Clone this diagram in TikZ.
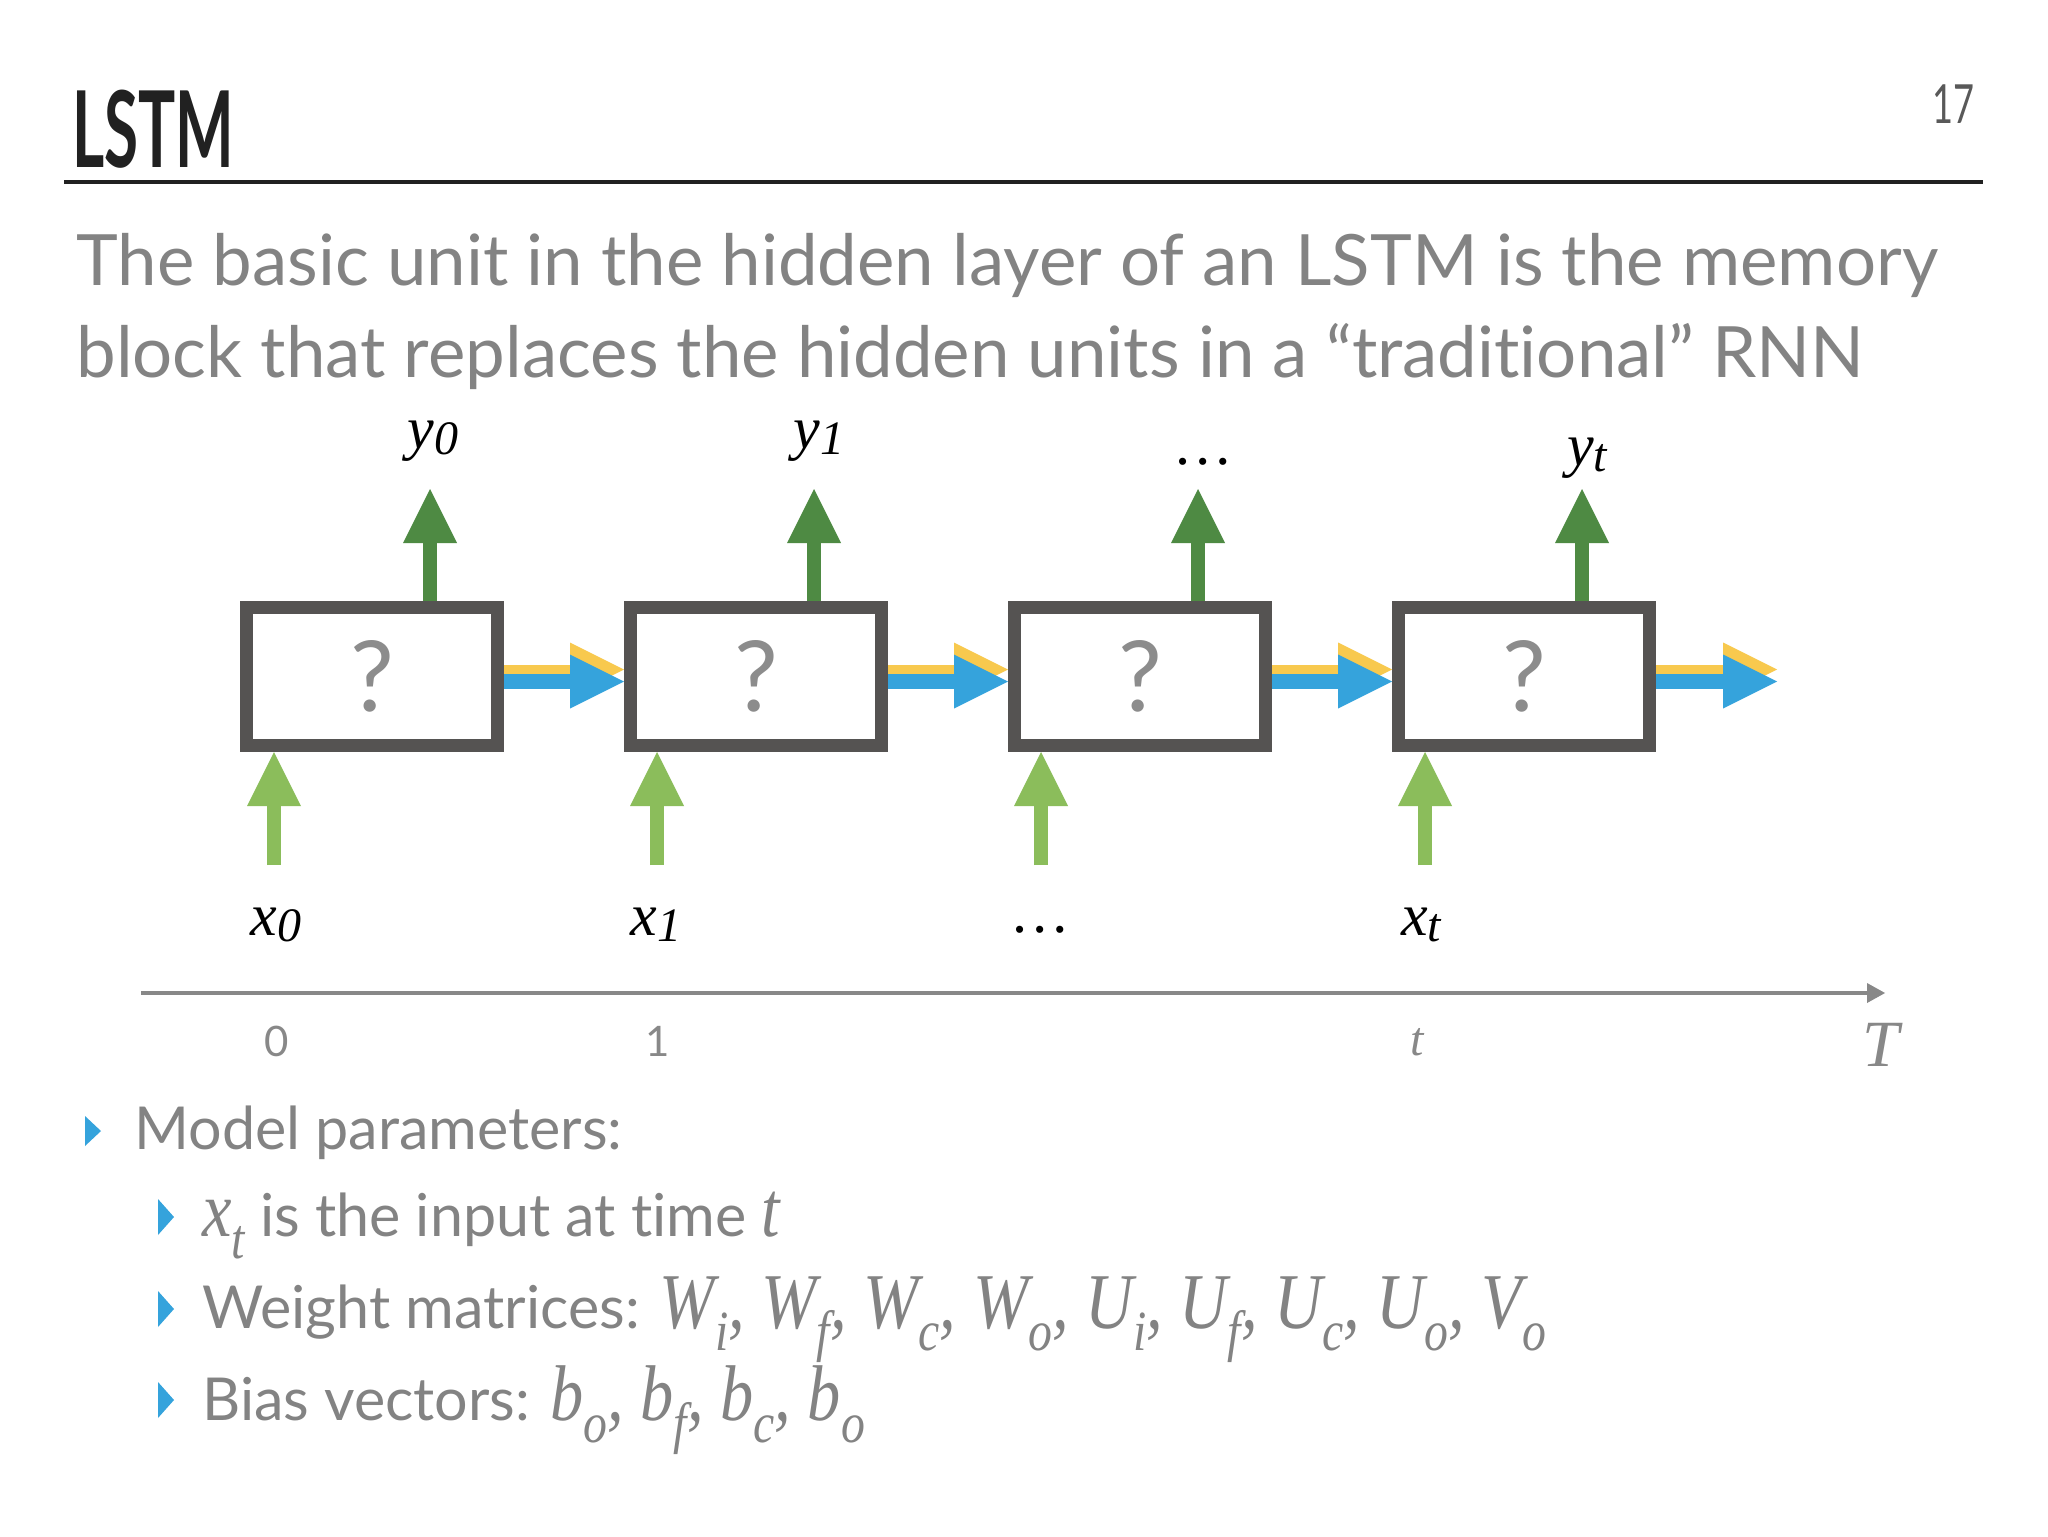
\documentclass[tikz,border=0pt]{standalone}
\usepackage{fontspec}
\setmainfont{Lato}[Ligatures=NoCommon]
\newfontfamily\tms{Liberation Serif}
\usetikzlibrary{arrows.meta}
\definecolor{boxgrey}{HTML}{555352}
\definecolor{txtgrey}{HTML}{838383}
\definecolor{qgrey}{HTML}{8C8C8C}
\definecolor{dgreen}{HTML}{4E8A43}
\definecolor{lgreen}{HTML}{8BBD5B}
\definecolor{rblue}{HTML}{35A3DC}
\definecolor{ryellow}{HTML}{F8C94E}
\definecolor{axisgrey}{HTML}{888888}
\newcommand\sbx[1]{\raisebox{-0.28em}{\scalebox{0.72}{#1}}}
\newcommand\lsb[1]{\raisebox{-0.1em}{\scalebox{0.8}{#1}}}
\newcommand\mt[1]{{\tms\itshape\fontsize{39.5}{40}\selectfont\scalebox{0.84}[1]{#1}}}
\begin{document}
\begin{tikzpicture}[x=0.5pt,y=-0.5pt,
  cell/.style={draw=boxgrey, line width=6.5pt, fill=white, minimum width=125.5pt, minimum height=69pt, inner sep=0pt, font=\fontsize{49}{49}\selectfont, text=qgrey},
  outarrow/.style={draw=dgreen, line width=7pt, -{Triangle[length=27pt,width=27pt,line width=0pt]}},
  inarrow/.style={draw=lgreen, line width=7pt, -{Triangle[length=27pt,width=27pt,line width=0pt]}},
  yarrow/.style={draw=ryellow, line width=4.5pt, -{Triangle[length=27pt,width=27pt,line width=0pt]}},
  barrow/.style={draw=rblue, line width=7.5pt, -{Triangle[length=27pt,width=27pt,line width=0pt]}},
  lbl/.style={inner sep=0pt, font=\tms\itshape\fontsize{30}{30}\selectfont},
  tick/.style={inner sep=0pt, text=axisgrey},
  body/.style={anchor=base west, inner sep=0pt, text=txtgrey, font=\fontsize{29.6}{36}\selectfont},
  bullet/.style={fill=rblue}
]
\useasboundingbox[fill=white] (0,0) rectangle (2048,1536);

% header
\node[anchor=base west, inner sep=0pt, text=black!87, font=\bfseries\fontsize{53}{53}\selectfont] (title) at (72,167) {\scalebox{0.585}[1]{LSTM}};
\node[anchor=base east, inner sep=0pt, text=black!65, font=\fontsize{27}{27}\selectfont] (pnum) at (1975,124) {\scalebox{0.67}[1]{17}};
\coordinate (r0) at (64,181.5);
\coordinate (r1) at (1983,181.5);
\draw[line width=2pt, black!87] (r0) -- (r1);

\node[anchor=base west, inner sep=0pt, text=txtgrey, font=\fontsize{35.4}{44}\selectfont] (s1) at (76,285) {The basic unit in the hidden layer of an LSTM is the memory};
\node[anchor=base west, inner sep=0pt, text=txtgrey, font=\fontsize{35.4}{44}\selectfont] (s2) at (76,377.5) {block that replaces the hidden units in a “traditional” RNN};

% cells
\node[cell] (b1) at (372,676.5) {?};
\node[cell] (b2) at (756,676.5) {?};
\node[cell] (b3) at (1140,676.5) {?};
\node[cell] (b4) at (1524,676.5) {?};

% recurrent arrows
\coordinate (bend) at (1777,676.5);
\foreach \a/\b in {b1/b2,b2/b3,b3/b4,b4/bend}{
  \draw[yarrow] ([yshift=3.5pt]\a.east) -- ([yshift=3.5pt]\b.west);
  \draw[barrow] ([yshift=-2.5pt]\a.east) -- ([yshift=-2.5pt]\b.west);
}

% output arrows
\foreach \i/\x in {1/430,2/814,3/1198,4/1582}{
  \coordinate (o\i) at (\x,489);
  \draw[outarrow] (b\i.north -| o\i) -- (o\i);
}
% input arrows
\foreach \i/\x in {1/274,2/657,3/1041,4/1425}{
  \coordinate (in\i) at (\x,865);
  \draw[inarrow] (in\i) -- (b\i.south -| in\i);
}

% labels
\node[lbl] (y0) at (433,441) {y\lsb{0}};
\node[lbl] (y1) at (819,441) {y\lsb{1}};
\node[lbl] (ydots) at (1204,462) {\ldots};
\node[lbl] (yt) at (1587,458) {y\lsb{t}};
\node[lbl] (x0) at (276,925) {x\lsb{0}};
\node[lbl] (x1) at (656,925) {x\lsb{1}};
\node[lbl] (xdots) at (1041,930) {\ldots};
\node[lbl] (xt) at (1421,925) {x\lsb{t}};

% timeline
\coordinate (tl0) at (141,993);
\coordinate (tl1) at (1885,993);
\draw[axisgrey, line width=2pt, -{Triangle[length=9pt,width=10pt,line width=0pt]}] (tl0) -- (tl1);
\node[tick, font=\fontsize{21}{21}\selectfont] (t0) at (277,1041) {0};
\node[tick, font=\fontsize{21}{21}\selectfont] (t1) at (658,1041) {1};
\node[tick, font=\tms\itshape\fontsize{24}{24}\selectfont] (tt) at (1417,1042) {t};
\node[tick, font=\tms\itshape\fontsize{33}{33}\selectfont] (tT) at (1881,1045) {T};

% bullets
\fill[bullet] (85,1116) -- (101,1131) -- (85,1146) -- cycle;
\node[body] (m0) at (134,1149) {Model parameters:};
\fill[bullet] (158,1199) -- (174,1217) -- (158,1235) -- cycle;
\node[body] (m1) at (202,1236) {\mt{x\sbx{t}} is the input at time \mt{t}};
\fill[bullet] (158,1291) -- (174,1309) -- (158,1327) -- cycle;
\node[body] (m2) at (202,1328) {Weight matrices: \mt{W\sbx{i}, W\sbx{f}, W\sbx{c}, W\sbx{o}, U\sbx{i}, U\sbx{f}, U\sbx{c}, U\sbx{o}, V\sbx{o}}};
\fill[bullet] (158,1382) -- (174,1400) -- (158,1418) -- cycle;
\node[body] (m3) at (202,1420) {Bias vectors: \mt{b\sbx{o}, b\sbx{f}, b\sbx{c}, b\sbx{o}}};
\end{tikzpicture}
\end{document}
